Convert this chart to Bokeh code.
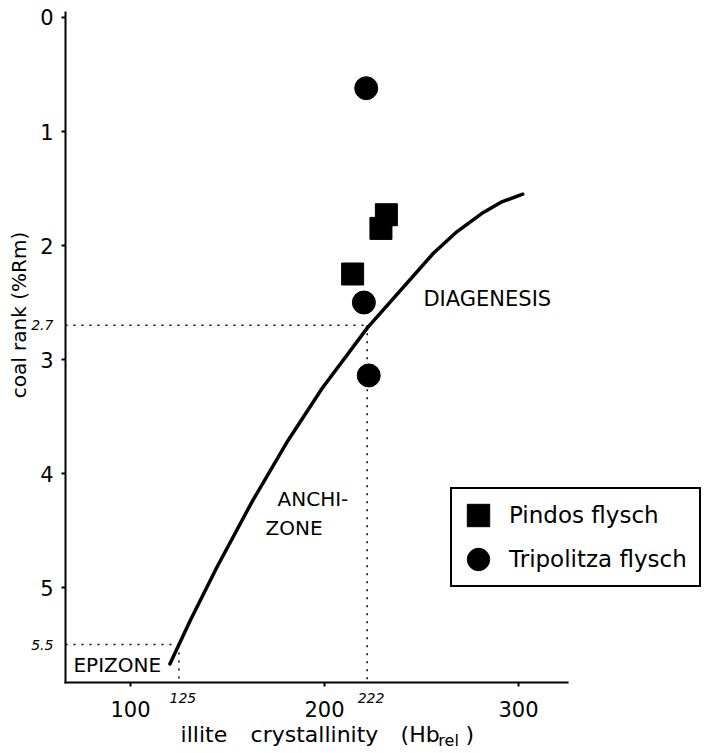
import math
from bokeh.plotting import figure
from bokeh.models import Range1d, FixedTicker, Label, Legend, LegendItem
from bokeh.embed import file_html
from bokeh.resources import INLINE

# ---- data ----
pindos_ic = [231.9, 229.1, 214.5]
pindos_rm = [1.73, 1.85, 2.25]
tripolitza_ic = [221.5, 220.3, 222.8]
tripolitza_rm = [0.62, 2.50, 3.14]
curve_ic = [120.3, 130.8, 144.6, 162.9, 181.2, 198.9, 222.2, 256.0, 268.2, 281.0, 291.0, 302.2]
curve_rm = [5.67, 5.29, 4.82, 4.24, 3.71, 3.25, 2.72, 2.07, 1.88, 1.72, 1.62, 1.55]
limit_ic = [222, 125]
limit_rm = [2.7, 5.5]
limit_ic_labels = ["222", "125"]
limit_rm_labels = ["2.7", "5.5"]
x_ticks = [100, 200, 300]
y_ticks = [0, 1, 2, 3, 4, 5]
zone_names = ["DIAGENESIS", "ANCHI-", "ZONE", "EPIZONE"]

FONT = "DejaVu Sans"
# axis box (data units)
X0, X1 = 66.5, 325.3
Y_TOP, Y_BOT = -0.044, 5.833
# full canvas extent (data units) so that texts around the axes are not clipped
CX0, CX1 = 32.99, 396.91
CY0, CY1 = -0.1491, 6.456

p = figure(width=706, height=753, output_backend="svg", toolbar_location=None,
           x_range=Range1d(CX0, CX1), y_range=Range1d(CY1, CY0), min_border=0)
p.outline_line_color = None
p.grid.visible = False
p.background_fill_color = "white"
p.border_fill_color = "white"

p.xaxis.fixed_location = Y_BOT
p.yaxis.fixed_location = X0
for ax, ticks, standoff in ((p.xaxis[0], x_ticks, 15), (p.yaxis[0], y_ticks, 8)):
    ax.ticker = FixedTicker(ticks=ticks)
    ax.axis_line_color = None
    ax.major_tick_line_width = 2
    ax.major_tick_line_color = "black"
    ax.major_tick_out = 4
    ax.major_tick_in = 0
    ax.minor_tick_out = 0
    ax.minor_tick_in = 0
    ax.major_label_text_font = FONT
    ax.major_label_text_font_size = "21px"
    ax.major_label_text_color = "black"
    ax.major_label_standoff = standoff

# axis spines
p.segment(x0=[X0, X0], y0=[Y_TOP, Y_BOT], x1=[X0, X1], y1=[Y_BOT, Y_BOT],
          line_color="black", line_width=2, line_cap="square")

# dotted guide lines
p.segment(x0=[X0] * len(limit_rm), y0=limit_rm, x1=limit_ic, y1=limit_rm,
          line_color="black", line_width=1.5, line_dash="2 6")
p.segment(x0=limit_ic, y0=limit_rm, x1=limit_ic, y1=[Y_BOT] * len(limit_ic),
          line_color="black", line_width=1.5, line_dash="2 6")

# boundary curve
p.line(curve_ic, curve_rm, line_color="black", line_width=3.5, line_join="round", line_cap="round")

# points
r_p = p.rect(x=pindos_ic, y=pindos_rm, width=22, height=22, width_units="screen",
             height_units="screen", fill_color="black", line_color="black")
r_t = p.ellipse(x=tripolitza_ic, y=tripolitza_rm, width=23, height=23, width_units="screen",
                height_units="screen", fill_color="black", line_color="black")

legend = Legend(items=[LegendItem(label="Pindos flysch", renderers=[r_p]),
                       LegendItem(label="Tripolitza flysch", renderers=[r_t])],
                location=(450, 166), orientation="vertical",
                glyph_width=28, glyph_height=28, label_height=28,
                label_standoff=17, padding=12, spacing=16, margin=0,
                label_text_font=FONT, label_text_font_size="23px", label_text_color="black",
                border_line_color="black", border_line_width=2, border_line_alpha=1.0,
                background_fill_color="white", background_fill_alpha=1.0)
p.add_layout(legend)

# italic limit labels
for rm, txt in zip(limit_rm, limit_rm_labels):
    p.add_layout(Label(x=60.3, y=rm, text=txt, text_align="right", text_baseline="middle",
                       text_font=FONT, text_font_style="italic", text_font_size="14px",
                       text_color="black"))
for ic, txt in zip(limit_ic, limit_ic_labels):
    p.add_layout(Label(x=ic + 2, y=5.97, text=txt, text_align="center", text_baseline="middle",
                       text_font=FONT, text_font_style="italic", text_font_size="14px",
                       text_color="black"))

# zone names
zone_pos = [(251.0, 2.465, "21px"), (175.8, 4.22, "20px"), (169.6, 4.48, "20px"), (70.6, 5.68, "20px")]
for name, (zx, zy, fs) in zip(zone_names, zone_pos):
    p.add_layout(Label(x=zx, y=zy, text=name, text_align="left", text_baseline="middle",
                       text_font=FONT, text_font_size=fs, text_color="black"))

# axis titles
p.add_layout(Label(x=42.3, y=2.61, text="coal rank (%Rm)", angle=math.pi / 2,
                   text_align="center", text_baseline="middle",
                   text_font=FONT, text_font_size="20px", text_color="black"))
for tx, ty, txt, fs in [(125.8, 6.29, "illite", "22px"), (161.9, 6.29, "crystallinity", "22px"),
                        (239.2, 6.29, "(Hb", "22px"), (258.7, 6.34, "rel", "16px"),
                        (272.7, 6.29, ")", "22px")]:
    p.add_layout(Label(x=tx, y=ty, text=txt, text_align="left", text_baseline="middle",
                       text_font=FONT, text_font_size=fs, text_color="black"))

open("out.html", "w").write(file_html(p, INLINE))
